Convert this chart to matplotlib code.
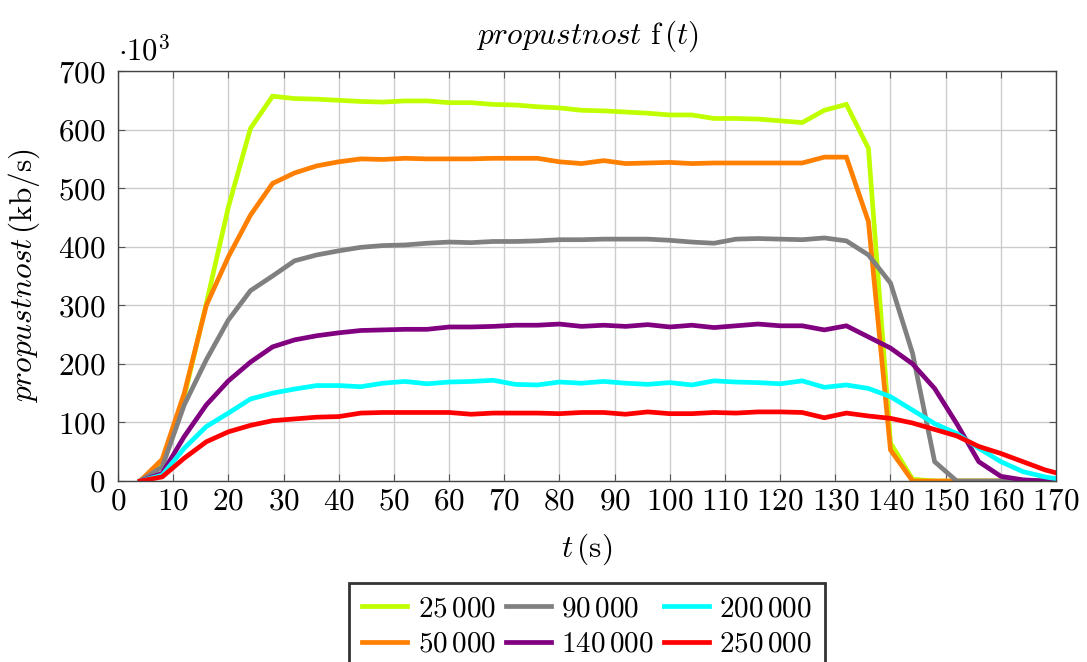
import matplotlib
matplotlib.use("Agg")
import matplotlib.pyplot as plt
from matplotlib.ticker import FuncFormatter, MultipleLocator

plt.rcParams["mathtext.fontset"] = "cm"
plt.rcParams["font.family"] = "serif"
plt.rcParams["font.serif"] = ["cmr10", "DejaVu Serif"]

t = [4, 8, 12, 16, 20, 24, 28, 32, 36, 40, 44, 48, 52, 56, 60, 64, 68, 72, 76,
     80, 84, 88, 92, 96, 100, 104, 108, 112, 116, 120, 124, 128, 132, 136, 140,
     144, 148, 152, 156, 160, 164, 168, 172]

# throughput in kb/s (x 10^3)
s25000 = [0, 30, 144, 303, 468, 602, 657, 653, 652, 650, 648, 647, 649, 649, 646,
          646, 643, 642, 639, 637, 633, 632, 630, 628, 625, 625, 619, 619, 618, 615,
          612, 633, 643, 568, 65, 3, 0, 0, 0, 0, 0, 0, 0]
s50000 = [0, 37, 150, 300, 383, 454, 508, 526, 538, 545, 550, 549, 551, 550, 550,
          550, 551, 551, 551, 545, 542, 547, 542, 543, 544, 542, 543, 543, 543, 543,
          543, 553, 553, 443, 53, 0, 0, 0, 0, 0, 0, 0, 0]
s90000 = [0, 24, 130, 207, 275, 325, 350, 376, 386, 393, 399, 402, 403, 406, 408,
          407, 409, 409, 410, 412, 412, 413, 413, 413, 411, 408, 406, 413, 414, 413,
          412, 415, 410, 386, 338, 218, 33, 0, 0, 0, 0, 0, 0]
s140000 = [0, 13, 76, 130, 171, 203, 229, 241, 248, 253, 257, 258, 259, 259, 263,
           263, 264, 266, 266, 268, 264, 266, 264, 267, 263, 266, 262, 265, 268, 265,
           265, 258, 265, 246, 227, 200, 158, 98, 33, 8, 2, 0, 0]
s200000 = [0, 10, 56, 93, 116, 140, 150, 157, 163, 163, 161, 167, 170, 166, 169,
           170, 172, 165, 164, 169, 167, 170, 167, 165, 168, 164, 171, 169, 168, 166,
           171, 160, 164, 158, 144, 121, 98, 81, 56, 33, 16, 7, 1]
s250000 = [0, 7, 39, 67, 84, 95, 103, 106, 109, 110, 116, 117, 117, 117, 117,
           114, 116, 116, 116, 115, 117, 117, 114, 118, 115, 115, 117, 116, 118, 118,
           117, 108, 116, 111, 107, 99, 88, 77, 59, 47, 33, 19, 9]

labels = [r"$25\,000$", r"$50\,000$", r"$90\,000$", r"$140\,000$",
          r"$200\,000$", r"$250\,000$"]
colors = ["#bfff00", "#ff8000", "#808080", "#800080", "#00ffff", "#ff0000"]
series = [s25000, s50000, s90000, s140000, s200000, s250000]

fig = plt.figure(figsize=(10.87, 6.62), dpi=100)
ax = fig.add_axes([0.1086, 0.2734, 0.8629, 0.6193])

for y, c, lab in zip(series, colors, labels):
    ax.plot(t, y, color=c, lw=3.4, label=lab, solid_joinstyle="miter")

ax.set_xlim(0, 170)
ax.set_ylim(0, 700)
ax.xaxis.set_major_locator(MultipleLocator(10))
ax.yaxis.set_major_locator(MultipleLocator(100))
fmt = FuncFormatter(lambda v, p: f"${v:g}$")
ax.xaxis.set_major_formatter(fmt)
ax.yaxis.set_major_formatter(fmt)
ax.tick_params(direction="in", length=5, width=0.8, color="#555555",
               labelsize=22.5, top=True, right=True)
ax.tick_params(axis="x", pad=5)
ax.tick_params(axis="y", pad=9)
ax.grid(True, color="#cccccc", lw=1.0)
ax.set_axisbelow(True)
for sp in ax.spines.values():
    sp.set_color("#444444")
    sp.set_linewidth(1.0)

ax.set_title(r"$\it{propustnost}\ \mathrm{f}\,(t)$", fontsize=22.5, pad=20)
ax.set_xlabel(r"$t\,(\mathrm{s})$", fontsize=22.5)
ax.set_ylabel(r"$\it{propustnost}\,(\mathrm{kb/s})$", fontsize=22.5)
ax.xaxis.set_label_coords(0.5, -0.122)
ax.yaxis.set_label_coords(-0.081, 0.5)
ax.text(0, 1.012, r"$\cdot 10^{3}$", transform=ax.transAxes, fontsize=22,
        ha="left", va="bottom")

leg = ax.legend(loc="upper center", bbox_to_anchor=(0.5, -0.249), ncol=3,
                fontsize=21, frameon=True, fancybox=False, handlelength=1.55,
                handletextpad=0.35, columnspacing=0.35, labelspacing=0.3,
                borderpad=0.45, borderaxespad=0)
leg.get_frame().set_edgecolor("black")
leg.get_frame().set_linewidth(2.0)

fig.savefig("out.png", dpi=100)
